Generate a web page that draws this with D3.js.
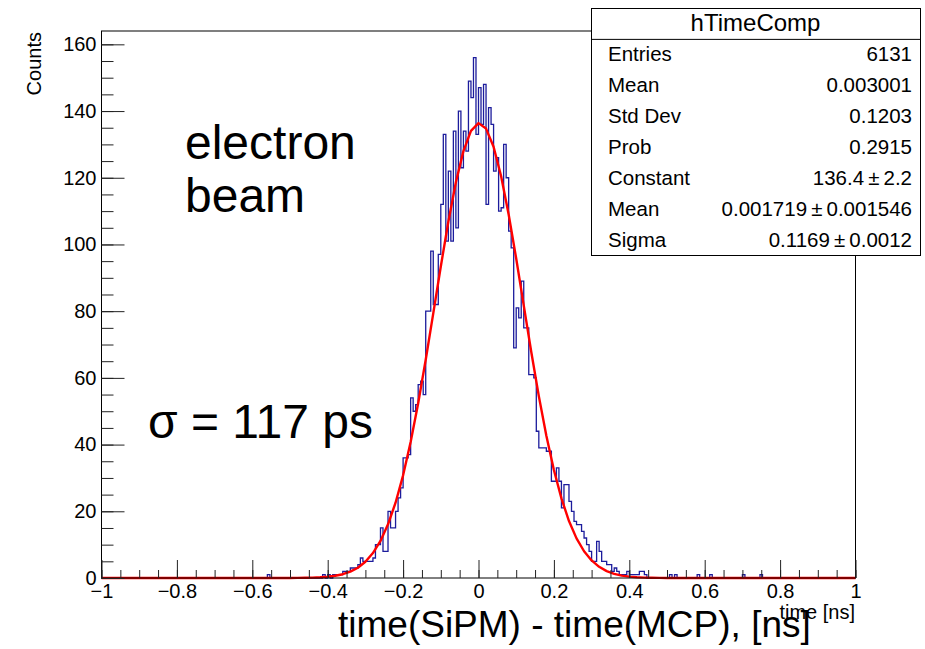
<!DOCTYPE html>
<html>
<head>
<meta charset="utf-8">
<script src="https://cdn.jsdelivr.net/npm/d3@7"></script>
<style>
    body { margin: 0; background: #fff; }
    text { font-family: "Liberation Sans", Arial, Helvetica, sans-serif; }
</style>
</head>
<body>
<div id="chart"></div>
<script>
// histogram binning
const nBins = 300
const xMin = -1
const xMax = 1

// bin contents, 10 bins per line
const counts = [
    0, 0, 0, 0, 0, 0, 0, 0, 0, 0,
    0, 0, 0, 0, 0, 0, 0, 0, 0, 0,
    0, 0, 0, 0, 0, 0, 0, 0, 0, 0,
    0, 0, 0, 0, 0, 0, 0, 0, 0, 0,
    0, 0, 0, 0, 0, 0, 0, 0, 0, 0,
    0, 0, 0, 0, 0, 0, 0, 0, 0, 0,
    0, 0, 0, 0, 0, 0, 1, 0, 0, 0,
    0, 0, 0, 0, 0, 0, 0, 0, 0, 0,
    0, 0, 0, 0, 0, 0, 0, 0, 1, 0,
    1, 0, 1, 1, 1, 1, 2, 2, 2, 3,
    3, 3, 4, 6, 5, 5, 5, 5, 6, 10,
    10, 15, 8, 8, 20, 15, 15, 20, 24, 27,
    36, 36, 37, 54, 50, 52, 58, 59, 55, 80,
    80, 98, 82, 82, 97, 112, 133, 101, 122, 101,
    134, 105, 140, 123, 134, 128, 149, 144, 156, 133,
    147, 136, 148, 112, 141, 136, 122, 126, 110, 111,
    130, 120, 104, 99, 69, 81, 78, 89, 75, 75,
    61, 61, 60, 44, 39, 39, 39, 38, 38, 29,
    29, 33, 29, 21, 28, 28, 23, 20, 17, 16,
    16, 14, 12, 10, 8, 5, 5, 11, 8, 5,
    5, 4, 4, 2, 3, 2, 1, 1, 1, 2,
    1, 1, 1, 1, 2, 2, 1, 0, 0, 0,
    0, 0, 0, 0, 0, 0, 1, 0, 1, 0,
    0, 0, 0, 0, 0, 0, 0, 1, 0, 0,
    0, 0, 1, 0, 0, 0, 0, 0, 0, 0,
    0, 0, 0, 0, 0, 1, 0, 0, 0, 0,
    0, 0, 1, 0, 0, 0, 0, 0, 0, 0,
    0, 0, 0, 0, 0, 0, 0, 0, 0, 0,
    0, 0, 0, 0, 0, 0, 0, 0, 0, 0,
    0, 0, 0, 0, 0, 0, 0, 0, 0, 0
]

// gaussian fit parameters (from the stat box)
const fitConstant = 136.4
const fitMean = 0.001719
const fitSigma = 0.1169
const fitPoints = 100

// axis ticks
const xTickValues = [-1, -0.8, -0.6, -0.4, -0.2, 0, 0.2, 0.4, 0.6, 0.8, 1]
const yTickValues = [0, 20, 40, 60, 80, 100, 120, 140, 160]
const yMax = 164

// stat box
const statTitle = "hTimeComp"
const statLabels = ["Entries", "Mean", "Std Dev", "Prob", "Constant", "Mean", "Sigma"]
const statValues = ["6131", "0.003001", "0.1203", "0.2915",
    "136.4\u2009±\u20092.2", "0.001719\u2009±\u20090.001546", "0.1169\u2009±\u20090.0012"]

const width = 925
const height = 649
const frame = {left: 101.5, right: 855.5, top: 31, bottom: 578}

const svg = d3.create('svg')
    .attr('width', width)
    .attr('height', height)
    .attr('viewBox', [0, 0, width, height])

svg.append('rect')
    .attr('width', width)
    .attr('height', height)
    .attr('fill', '#fff')

const x = d3.scaleLinear()
    .domain([xMin, xMax])
    .range([frame.left, frame.right])

const y = d3.scaleLinear()
    .domain([0, yMax])
    .range([frame.bottom, frame.top])

//histogram outline
const binWidth = (xMax - xMin) / nBins
const steps = counts.map((c, i) => [xMin + i * binWidth, c])
steps.push([xMax, counts[counts.length - 1]])

svg.append('path')
    .datum(steps)
    .attr('fill', 'none')
    .attr('stroke', '#1c1c9c')
    .attr('stroke-width', 1.3)
    .attr('d', d3.line()
        .x(d => x(d[0]))
        .y(d => y(d[1]))
        .curve(d3.curveStepAfter))

//fit function
const gaus = t => fitConstant * Math.exp(-0.5 * ((t - fitMean) / fitSigma) ** 2)
const fitX = d3.range(fitPoints + 1).map(i => xMin + i * (xMax - xMin) / fitPoints)

svg.append('path')
    .datum(fitX)
    .attr('fill', 'none')
    .attr('stroke', '#ff0000')
    .attr('stroke-width', 2.4)
    .attr('stroke-linejoin', 'round')
    .attr('d', d3.line()
        .x(d => x(d))
        .y(d => y(gaus(d))))

//frame
svg.append('rect')
    .attr('x', frame.left)
    .attr('y', frame.top)
    .attr('width', frame.right - frame.left)
    .attr('height', frame.bottom - frame.top)
    .attr('fill', 'none')
    .attr('stroke', '#000')
    .attr('stroke-width', 1)

//y axis, ticks pointing inwards
svg.append('g')
    .attr('transform', `translate(${frame.left},0)`)
    .call(d3.axisLeft(y).tickValues(d3.range(0, yMax, 5)).tickSize(-12).tickFormat(''))
    .call(g => g.select('.domain').remove())
    .call(g => g.selectAll('.tick line').attr('stroke', '#222'))

svg.append('g')
    .attr('transform', `translate(${frame.left},0)`)
    .call(d3.axisLeft(y).tickValues(yTickValues).tickSize(-23).tickPadding(5))
    .call(g => g.select('.domain').remove())
    .call(g => g.selectAll('.tick line').attr('stroke', '#222'))
    .call(g => g.selectAll('.tick text')
        .attr('fill', '#000')
        .style('font-size', '20px')
        .style('font-family', '"Liberation Sans", Arial, sans-serif'))

//x axis
svg.append('g')
    .attr('transform', `translate(0,${frame.bottom})`)
    .call(d3.axisBottom(x).tickValues(d3.range(0, 41).map(i => xMin + i * 0.05)).tickSize(-8).tickFormat(''))
    .call(g => g.select('.domain').remove())
    .call(g => g.selectAll('.tick line').attr('stroke', '#222'))

svg.append('g')
    .attr('transform', `translate(0,${frame.bottom})`)
    .call(d3.axisBottom(x).tickValues(xTickValues).tickSize(-18).tickPadding(6)
        .tickFormat(d3.format('~g')))
    .call(g => g.select('.domain').remove())
    .call(g => g.selectAll('.tick line').attr('stroke', '#222'))
    .call(g => g.selectAll('.tick text')
        .attr('fill', '#000')
        .style('font-size', '20px')
        .style('font-family', '"Liberation Sans", Arial, sans-serif'))

//axis titles
svg.append('text')
    .attr('transform', `translate(41,32) rotate(-90)`)
    .attr('text-anchor', 'end')
    .style('font-size', '20px')
    .text('Counts')

svg.append('text')
    .attr('x', 855)
    .attr('y', 619)
    .attr('text-anchor', 'end')
    .style('font-size', '20px')
    .text('time [ns]')

svg.append('text')
    .attr('x', 338)
    .attr('y', 637)
    .style('font-size', '37px')
    .text('time(SiPM) - time(MCP), [ns]')

//annotations
svg.append('text')
    .attr('x', 185)
    .attr('y', 159)
    .style('font-size', '48px')
    .text('electron')

svg.append('text')
    .attr('x', 185)
    .attr('y', 212)
    .style('font-size', '48px')
    .text('beam')

svg.append('text')
    .attr('x', 148)
    .attr('y', 438)
    .style('font-size', '48px')
    .text('σ = 117 ps')

//stat box
const box = {left: 591, right: 920, top: 8, bottom: 255}
const rowH = (box.bottom - box.top) / (statLabels.length + 1)

const stats = svg.append('g')

stats.append('rect')
    .attr('x', box.left + 0.5)
    .attr('y', box.top + 0.5)
    .attr('width', box.right - box.left)
    .attr('height', box.bottom - box.top)
    .attr('fill', '#fff')
    .attr('stroke', '#000')

stats.append('line')
    .attr('x1', box.left)
    .attr('x2', box.right)
    .attr('y1', box.top + rowH + 0.5)
    .attr('y2', box.top + rowH + 0.5)
    .attr('stroke', '#000')

stats.append('text')
    .attr('x', (box.left + box.right) / 2)
    .attr('y', box.top + rowH / 2 + 8)
    .attr('text-anchor', 'middle')
    .style('font-size', '24px')
    .text(statTitle)

stats.selectAll('text.label')
    .data(statLabels)
    .join('text')
    .attr('class', 'label')
    .attr('x', box.left + 17)
    .attr('y', (_, i) => box.top + rowH * (i + 1.5) + 7)
    .style('font-size', '20.5px')
    .text(d => d)

stats.selectAll('text.value')
    .data(statValues)
    .join('text')
    .attr('class', 'value')
    .attr('x', box.right - 8)
    .attr('y', (_, i) => box.top + rowH * (i + 1.5) + 7)
    .attr('text-anchor', 'end')
    .style('font-size', '20.5px')
    .text(d => d)

document.getElementById('chart').append(svg.node())
</script>
</body>
</html>
